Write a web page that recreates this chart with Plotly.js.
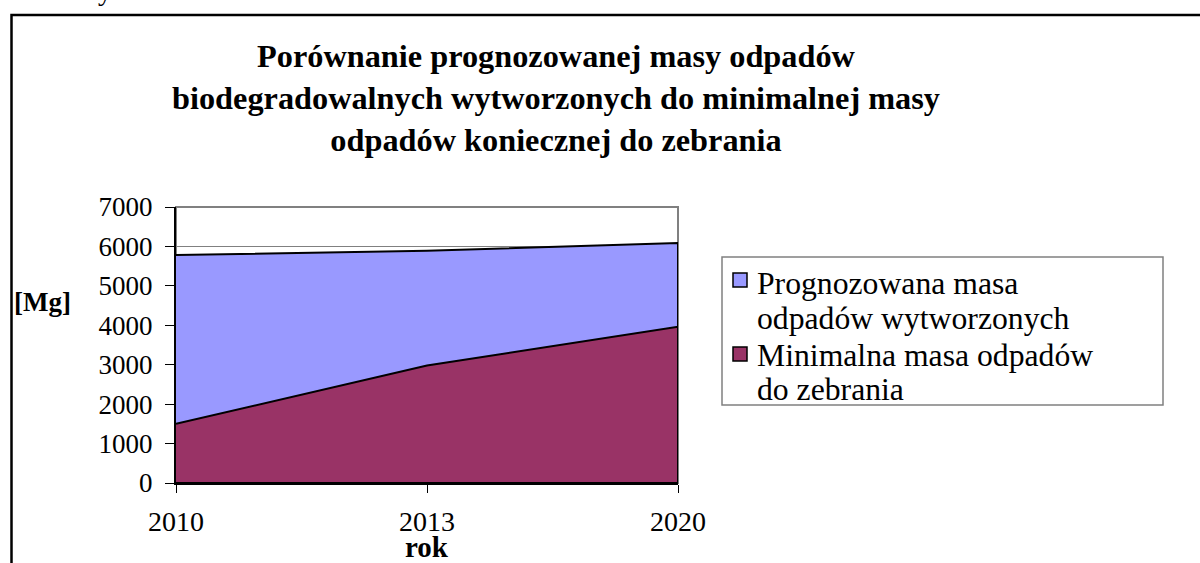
<!DOCTYPE html>
<html><head><meta charset="utf-8">
<script src="https://cdn.plot.ly/plotly-3.0.1.min.js"></script>
<style>html,body{margin:0;padding:0;background:#fff;} #chart{width:1200px;height:563px;}</style>
</head><body><div id="chart"></div>
<script>
// ---- data ----
const years = ['2010', '2013', '2020'];
const prognozowana = [5780, 5890, 6090];
const minimalna = [1500, 2980, 3960];
const seriesNames = [['Prognozowana masa', 'odpadów wytworzonych'], ['Minimalna masa odpadów', 'do zebrania']];
const yTickVals = [0, 1000, 2000, 3000, 4000, 5000, 6000, 7000];
const titleText = '<b>Porównanie prognozowanej masy odpadów<br>biodegradowalnych wytworzonych do minimalnej masy<br>odpadów koniecznej do zebrania</b>';
const yUnit = '<b>[Mg]</b>';
const xName = '<b>rok</b>';

// ---- styles ----
const FONT = '"Liberation Serif", "Times New Roman", serif';
const colors = ['#9999FF', '#993366'];

const L = 176, R = 522, T = 207, B = 80, W = 1200, H = 563;
const pw = W - L - R, ph = H - T - B;
const px = x => (x - L) / pw;
const py = y => (H - B - y) / ph;

// closed polygon down to the baseline
function areaTrace(vals, color, name) {
  return {
    type: 'scatter', mode: 'lines', name: name,
    x: years.concat([years[years.length - 1], years[0]]),
    y: vals.concat([0, 0]),
    fill: 'toself', fillcolor: color,
    line: {color: '#000', width: 2},
    showlegend: false, hoverinfo: 'skip'
  };
}

const data = [
  areaTrace(prognozowana, colors[0], seriesNames[0].join(' ')),
  areaTrace(minimalna, colors[1], seriesNames[1].join(' '))
];

// legend (box, keys, text lines)
const legBox = {x0: 722, x1: 1163, y0: 257, y1: 405};
const keyTops = [273, 347];
const lineBaselines = [[294.5, 329], [366, 400.5]];
const LEG_FONT = 31.7;
const legendShapes = [
  {type: 'rect', xref: 'paper', yref: 'paper',
   x0: px(legBox.x0), x1: px(legBox.x1), y0: py(legBox.y1), y1: py(legBox.y0),
   fillcolor: '#fff', line: {color: '#808080', width: 1.5}}
];
const legendAnns = [];
seriesNames.forEach((lines, i) => {
  legendShapes.push({type: 'rect', xref: 'paper', yref: 'paper',
    x0: px(733), x1: px(747), y0: py(keyTops[i] + 14), y1: py(keyTops[i]),
    fillcolor: colors[i], line: {color: '#000', width: 1.5}});
  lines.forEach((t, j) => {
    legendAnns.push({text: t, xref: 'paper', yref: 'paper',
      x: px(755), y: py(lineBaselines[i][j] - 0.3375 * LEG_FONT),
      xanchor: 'left', yanchor: 'middle', showarrow: false,
      font: {family: FONT, size: LEG_FONT, color: '#000'}});
  });
});

const layout = {
  width: W, height: H,
  margin: {l: L, r: R, t: T, b: B, pad: 0},
  paper_bgcolor: '#fff', plot_bgcolor: '#fff',
  font: {family: FONT, color: '#000', size: 28},
  showlegend: false,
  title: {
    text: titleText,
    font: {family: FONT, size: 32.3, color: '#000'},
    xref: 'container', x: 556 / W, xanchor: 'center',
    yref: 'container', y: 1 - 67 / H, yanchor: 'top'
  },
  xaxis: {
    type: 'category', range: [0, years.length - 1],
    showline: true, linecolor: '#000', linewidth: 2,
    ticks: 'outside', ticklen: 8, tickcolor: '#000', tickwidth: 1,
    showgrid: false, zeroline: false,
    tickfont: {family: FONT, size: 28, color: '#000'},
    ticklabelstandoff: 4, fixedrange: true
  },
  yaxis: {
    range: [0, 7000], tickvals: yTickVals,
    showline: true, linecolor: '#000', linewidth: 2,
    ticks: 'outside', ticklen: 9, tickcolor: '#000', tickwidth: 1,
    showgrid: true, gridcolor: '#808080', gridwidth: 1.5, zeroline: false,
    tickfont: {family: FONT, size: 27, color: '#000'},
    ticklabelstandoff: 7, fixedrange: true
  },
  shapes: [
    {type: 'rect', xref: 'paper', yref: 'paper', x0: 0, x1: 1, y0: 0, y1: 1,
     line: {color: '#808080', width: 2}, layer: 'below'},
    {type: 'path', xref: 'paper', yref: 'paper',
     path: `M ${px(11.5)} ${py(H + 20)} L ${px(11.5)} ${py(15)} L ${px(W + 20)} ${py(15)}`,
     line: {color: '#000', width: 2.5}}
  ].concat(legendShapes),
  annotations: [
    {text: yUnit, xref: 'paper', yref: 'paper', x: px(42), y: py(302),
     xanchor: 'center', yanchor: 'middle', showarrow: false,
     font: {family: FONT, size: 27, color: '#000'}},
    {text: xName, xref: 'paper', yref: 'paper', x: 0.5, y: py(547),
     xanchor: 'center', yanchor: 'middle', showarrow: false,
     font: {family: FONT, size: 29, color: '#000'}},
    {text: 'y', xref: 'paper', yref: 'paper', x: px(105), y: py(-10),
     xanchor: 'center', yanchor: 'middle', showarrow: false,
     font: {family: FONT, size: 28, color: '#000'}}
  ].concat(legendAnns)
};

Plotly.newPlot('chart', data, layout, {displayModeBar: false, staticPlot: true});
</script>
</body></html>
